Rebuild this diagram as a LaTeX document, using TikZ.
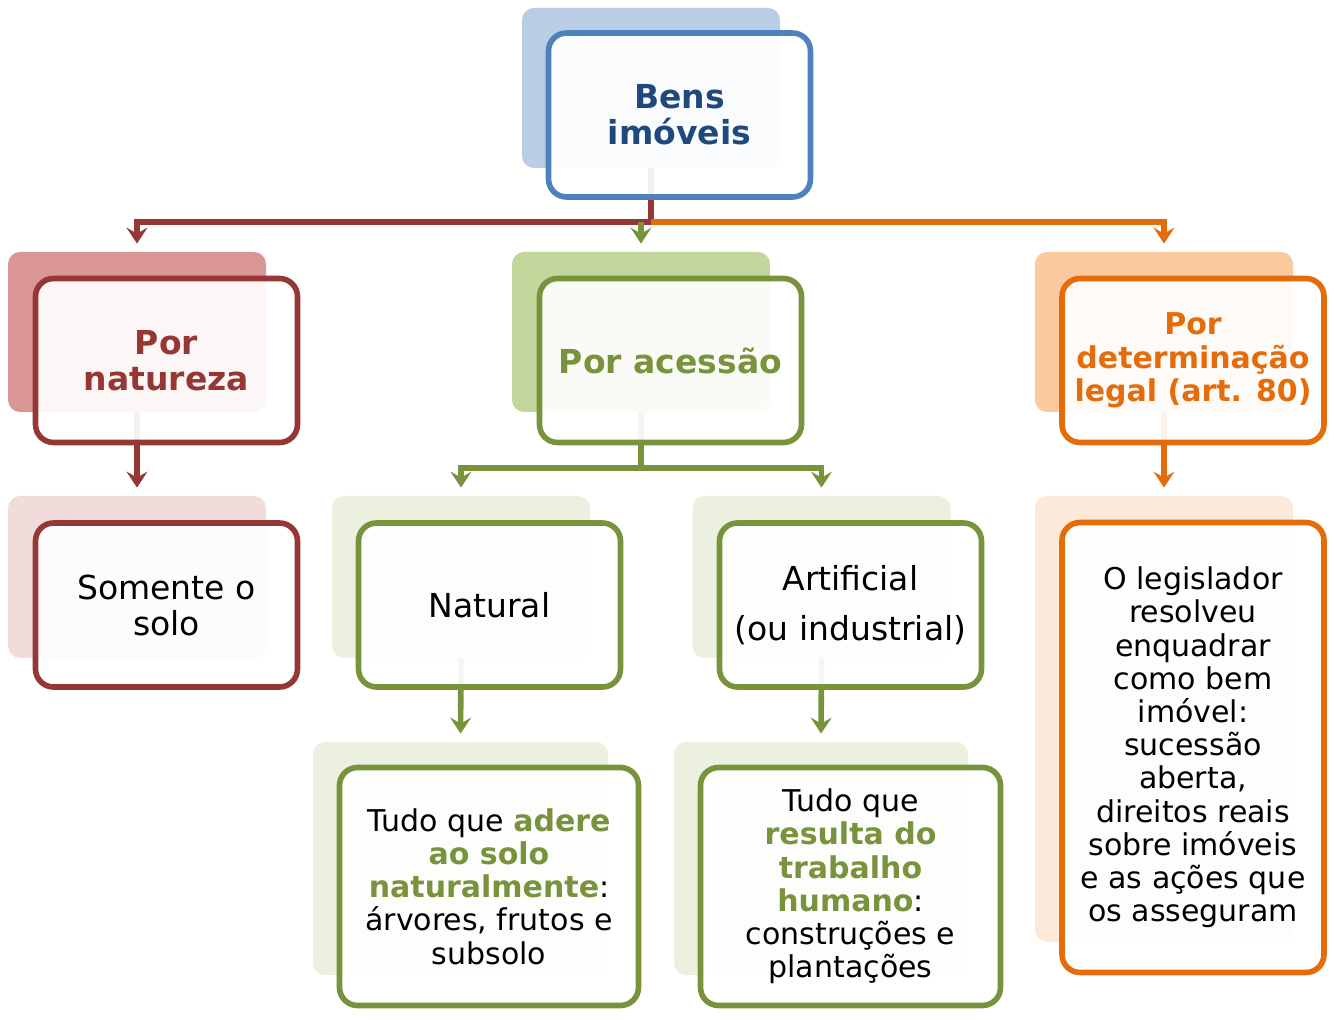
\documentclass[tikz,border=0pt]{standalone}
\usepackage{fontspec}
\setmainfont{DejaVu Sans}
\usepackage{xcolor}
\usetikzlibrary{arrows.meta}

\definecolor{blueline}{HTML}{4F81BD}
\definecolor{bluetext}{HTML}{1F497D}
\definecolor{blueshd}{HTML}{B9CDE5}
\definecolor{redline}{HTML}{953735}
\definecolor{redshd}{HTML}{D99694}
\definecolor{redpale}{HTML}{F2DCDB}
\definecolor{greenline}{HTML}{77933C}
\definecolor{greenshd}{HTML}{C3D69B}
\definecolor{greenpale}{HTML}{EBF1DE}
\definecolor{orangeline}{HTML}{E46C0A}
\definecolor{orangeshd}{HTML}{FAC9A0}
\definecolor{orangepale}{HTML}{FDE9D9}

\begin{document}
\begin{tikzpicture}[
    x=0.5pt, y=-0.5pt,
    shd/.style={rectangle, fill=#1, rounded corners=6pt, inner sep=0pt, minimum width=129pt, minimum height=80pt},
    box/.style={rectangle, draw=#1, rounded corners=9pt, line width=2.8pt, fill=white, fill opacity=0.92, text opacity=1, align=center, inner sep=0pt, minimum width=131pt, minimum height=82pt},
    big/.style={font=\fontsize{16.5}{18}\selectfont},
    small/.style={font=\fontsize{15}{16.6}\selectfont},
    arrow/.style={-{Stealth[length=8pt, width=10.5pt, inset=3pt]}, line width=2.8pt, shorten >=4pt}
]
\useasboundingbox (0,0) rectangle (1334,1020);

% shadow panels
\node[shd=blueshd] (bensS) at (651,88) {};
\node[shd=redshd] (natS) at (137,332) {};
\node[shd=redpale, minimum height=81pt] (soloS) at (137,577) {};
\node[shd=greenshd] (acesS) at (641,332) {};
\node[shd=greenpale, minimum height=81pt] (natlS) at (461,577) {};
\node[shd=greenpale, minimum height=81pt] (artS) at (821.5,577) {};
\node[shd=greenpale, minimum width=147.5pt, minimum height=116.5pt] (adereS) at (460.5,858.5) {};
\node[shd=greenpale, minimum width=147pt, minimum height=116.5pt] (resS) at (821,858.5) {};
\node[shd=orangeshd] (detS) at (1164,332) {};
\node[shd=orangepale, minimum height=223pt] (legS) at (1164,719) {};

% connectors
\coordinate (hub) at (651,222);
\coordinate (hub2) at (641,468);
\draw[arrow, redline] (bensS.south) |- (hub) -| (natS.north);
\draw[arrow, orangeline] (hub) -| (detS.north);
\draw[arrow, greenline] (hub -| acesS.north) -- (acesS.north);
\draw[arrow, redline] (natS.south) -- (soloS.north);
\draw[arrow, greenline] (acesS.south) |- (hub2) -| (natlS.north);
\draw[arrow, greenline] (hub2) -| (artS.north);
\draw[arrow, greenline] (natlS.south) -- (adereS.north);
\draw[arrow, greenline] (artS.south) -- (resS.north);
\draw[arrow, orangeline] (detS.south) -- (legS.north);

% front boxes
\node[box=blueline, big, text=bluetext] (bens) at (679.5,115) {\bfseries Bens\\\bfseries imóveis};
\node[box=redline, big, text=redline] (nat) at (166.5,360.5) {\bfseries Por\\\bfseries natureza};
\node[box=redline, big] (solo) at (166.5,605) {Somente o\\solo};
\node[box=greenline, big, text=greenline] (aces) at (670.5,360.5) {\bfseries Por acessão};
\node[box=greenline, big] (natl) at (489.5,605) {Natural};
\node[box=greenline, big] (art) at (850.5,605) {Artificial\\[7pt](ou industrial)};
\node[box=greenline, small, minimum width=149.5pt, minimum height=119pt] (adere) at (489,886.5)
    {Tudo que \textcolor{greenline}{\bfseries adere}\\\textcolor{greenline}{\bfseries ao solo}\\\textcolor{greenline}{\bfseries naturalmente}:\\árvores, frutos e\\subsolo};
\node[box=greenline, small, minimum width=150pt, minimum height=119pt] (res) at (850.5,886.5)
    {Tudo que\\\textcolor{greenline}{\bfseries resulta do}\\\textcolor{greenline}{\bfseries trabalho}\\\textcolor{greenline}{\bfseries humano}:\\construções e\\plantações};
\node[box=orangeline, small, text=orangeline] (det) at (1193,360.5) {\bfseries Por\\\bfseries determinação\\\bfseries legal (art. 80)};
\node[box=orangeline, small, minimum height=225pt] (leg) at (1193,747.5)
    {O legislador\\resolveu\\enquadrar\\como bem\\imóvel:\\sucessão\\aberta,\\direitos reais\\sobre imóveis\\e as ações que\\os asseguram};
\end{tikzpicture}
\end{document}
